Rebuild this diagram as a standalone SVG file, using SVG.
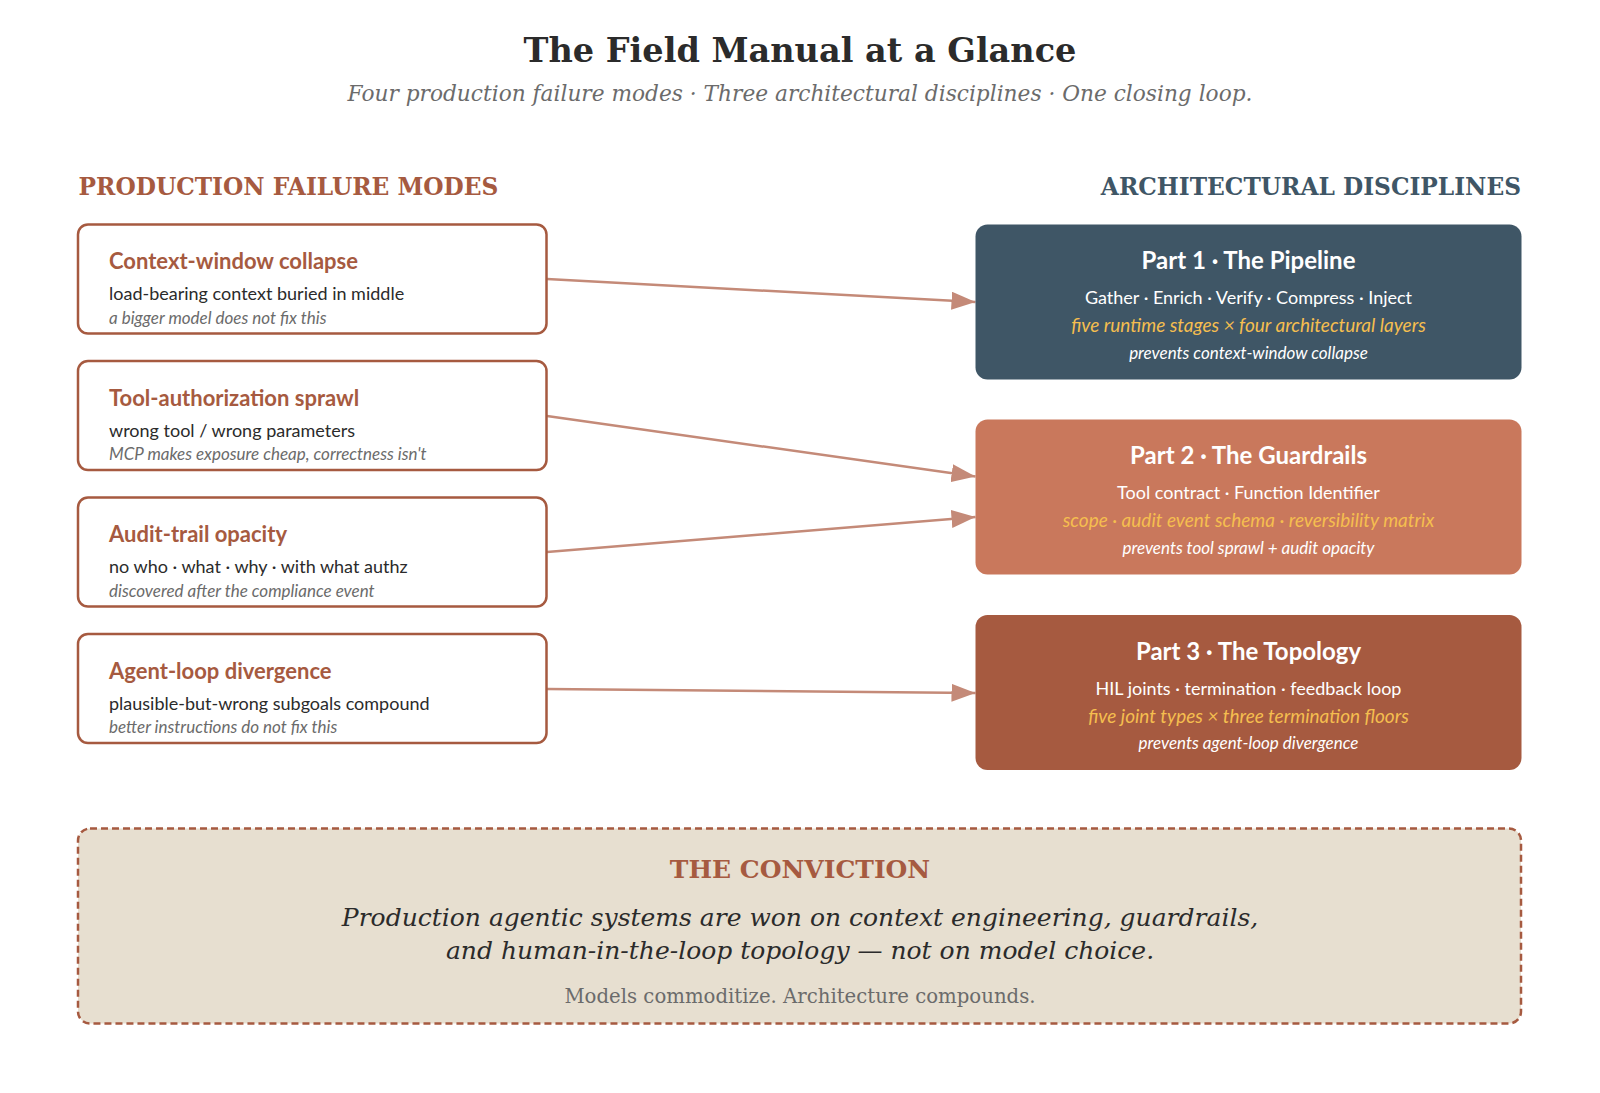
<svg xmlns="http://www.w3.org/2000/svg" width="1600" height="1093" viewBox="0 0 1600 1093">
<defs>
<marker id="arr" viewBox="0 0 24 18" refX="24" refY="9" markerWidth="24" markerHeight="18" markerUnits="userSpaceOnUse" orient="auto">
<path d="M0,0 L24,9 L0,18 Z" fill="#C48A78"/>
</marker>
<style>
.serif{font-family:"DejaVu Serif",serif}
.fbox{fill:#fff;stroke:#A65A40;stroke-width:2.5}
.ft{font-family:Lato,"Liberation Sans",sans-serif;font-weight:700;font-size:22px;fill:#A65A40}
.fd{font-family:Lato,"Liberation Sans",sans-serif;font-size:18px;fill:#2b2b2b}
.fn{font-family:Lato,"Liberation Sans",sans-serif;font-size:17px;font-style:italic;fill:#6b6b6b}
.pt{font-family:Lato,"Liberation Sans",sans-serif;font-weight:700;font-size:24px;fill:#fff;text-anchor:middle}
.pd{font-family:Lato,"Liberation Sans",sans-serif;font-size:18px;fill:#fff;text-anchor:middle}
.pg{font-family:Lato,"Liberation Sans",sans-serif;font-size:19px;font-style:italic;fill:#F5BE4F;text-anchor:middle}
.pp{font-family:Lato,"Liberation Sans",sans-serif;font-size:17px;font-style:italic;fill:#fff;text-anchor:middle}
.conn{fill:none;stroke:#C48A78;stroke-width:2.5;marker-end:url(#arr)}
</style>
</defs>
<rect width="1600" height="1093" fill="#fff"/>

<g id="title">
<text x="800" y="62" class="serif" font-size="33.5" font-weight="700" fill="#2b2b2b" text-anchor="middle">The Field Manual at a Glance</text>
<text x="800" y="100.5" class="serif" font-size="21.7" font-style="italic" fill="#6b6b6b" text-anchor="middle">Four production failure modes · Three architectural disciplines · One closing loop.</text>
</g>

<g id="headers">
<text x="78.5" y="195" class="serif" font-size="23.3" font-weight="700" fill="#A65A40">PRODUCTION FAILURE MODES</text>
<text x="1521" y="195" class="serif" font-size="23.3" font-weight="700" fill="#3F5666" text-anchor="end">ARCHITECTURAL DISCIPLINES</text>
</g>

<g id="connectors">
<path class="conn" d="M547,279 L975.5,302"/>
<path class="conn" d="M547,416 L975.5,476.5"/>
<path class="conn" d="M547,552 L975.5,517"/>
<path class="conn" d="M547,689 L975.5,693"/>
</g>

<g id="fail-context">
<rect class="fbox" x="78" y="224.5" width="468.5" height="109" rx="10"/>
<text class="ft" x="109" y="269">Context-window collapse</text>
<text class="fd" x="109" y="300">load-bearing context buried in middle</text>
<text class="fn" x="109" y="323.5">a bigger model does not fix this</text>
</g>
<g id="fail-tool">
<rect class="fbox" x="78" y="361" width="468.5" height="109" rx="10"/>
<text class="ft" x="109" y="405.5">Tool-authorization sprawl</text>
<text class="fd" x="109" y="436.5">wrong tool / wrong parameters</text>
<text class="fn" x="109" y="460">MCP makes exposure cheap, correctness isn't</text>
</g>
<g id="fail-audit">
<rect class="fbox" x="78" y="497.5" width="468.5" height="109" rx="10"/>
<text class="ft" x="109" y="542">Audit-trail opacity</text>
<text class="fd" x="109" y="573">no who · what · why · with what authz</text>
<text class="fn" x="109" y="596.5">discovered after the compliance event</text>
</g>
<g id="fail-agent">
<rect class="fbox" x="78" y="634" width="468.5" height="109" rx="10"/>
<text class="ft" x="109" y="678.5">Agent-loop divergence</text>
<text class="fd" x="109" y="709.5">plausible-but-wrong subgoals compound</text>
<text class="fn" x="109" y="733">better instructions do not fix this</text>
</g>

<g id="part1">
<rect x="975.5" y="224.5" width="546" height="155" rx="12" fill="#3F5666"/>
<text class="pt" x="1248.5" y="269">Part 1 · The Pipeline</text>
<text class="pd" x="1248.5" y="304">Gather · Enrich · Verify · Compress · Inject</text>
<text class="pg" x="1248.5" y="332">five runtime stages × four architectural layers</text>
<text class="pp" x="1248.5" y="358.5">prevents context-window collapse</text>
</g>
<g id="part2">
<rect x="975.5" y="419.5" width="546" height="155" rx="12" fill="#C9785C"/>
<text class="pt" x="1248.5" y="464">Part 2 · The Guardrails</text>
<text class="pd" x="1248.5" y="499">Tool contract · Function Identifier</text>
<text class="pg" x="1248.5" y="527">scope · audit event schema · reversibility matrix</text>
<text class="pp" x="1248.5" y="553.5">prevents tool sprawl + audit opacity</text>
</g>
<g id="part3">
<rect x="975.5" y="615" width="546" height="155" rx="12" fill="#A65A40"/>
<text class="pt" x="1248.5" y="659.5">Part 3 · The Topology</text>
<text class="pd" x="1248.5" y="694.5">HIL joints · termination · feedback loop</text>
<text class="pg" x="1248.5" y="722.5">five joint types × three termination floors</text>
<text class="pp" x="1248.5" y="749">prevents agent-loop divergence</text>
</g>

<g id="conviction">
<rect x="78" y="828.5" width="1443" height="195" rx="12" fill="#E7DFD0" stroke="#A65A40" stroke-width="2.5" stroke-dasharray="7 4"/>
<text x="800" y="878" class="serif" font-size="25" font-weight="700" fill="#A65A40" text-anchor="middle">THE CONVICTION</text>
<text x="800" y="926" class="serif" font-size="25" font-style="italic" fill="#2b2b2b" text-anchor="middle">Production agentic systems are won on context engineering, guardrails,</text>
<text x="800" y="959" class="serif" font-size="25" font-style="italic" fill="#2b2b2b" text-anchor="middle">and human-in-the-loop topology — not on model choice.</text>
<text x="800" y="1003" class="serif" font-size="19.7" fill="#6b6b6b" text-anchor="middle">Models commoditize. Architecture compounds.</text>
</g>
</svg>
